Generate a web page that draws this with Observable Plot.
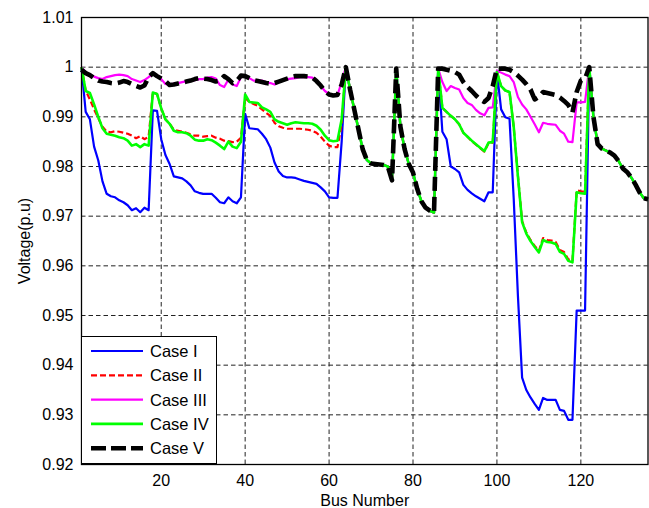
<!DOCTYPE html>
<html><head><meta charset="utf-8">
<script src="https://cdn.jsdelivr.net/npm/d3@7"></script>
<script src="https://cdn.jsdelivr.net/npm/@observablehq/plot@0.6"></script>
<style>
body{margin:0;background:#fff;}
#wrap{position:relative;width:649px;height:508px;font-family:"Liberation Sans",Arial,sans-serif;}
#legend{position:absolute;left:81px;top:336px;width:136px;height:128px;background:#fff;border:1.3px solid #000;box-sizing:border-box;}
#legend svg{display:block;}
</style></head><body><div id="wrap"></div>
<script>
// ---- data ----
const caseNames = ["Case I", "Case II", "Case III", "Case IV", "Case V"];
const xTicks = [20, 40, 60, 80, 100, 120];
const yTicks = [0.92, 0.93, 0.94, 0.95, 0.96, 0.97, 0.98, 0.99, 1.00, 1.01];

// buses 64-86 and 122-136 are the same for every case
const common64to86 = [1.0000,0.9955,0.9915,0.9875,0.9835,0.9813,0.9806,0.9805,0.9804,0.9803,0.9800,0.9772,0.9997,0.9880,0.9835,0.9805,0.9788,0.9755,0.9730,0.9717,0.9711,0.9707,0.9997];
const common122to136 = [1.0000,0.9900,0.9845,0.9836,0.9832,0.9828,0.9822,0.9811,0.9796,0.9789,0.9778,0.9764,0.9748,0.9736,0.9734];

const caseI_1to63 = [1.0000,0.9910,0.9895,0.9840,0.9812,0.9770,0.9745,0.9740,0.9738,0.9732,0.9728,0.9722,0.9712,0.9716,0.9708,0.9717,0.9712,
  0.9913,0.9912,0.9855,0.9823,0.9805,0.9780,0.9778,0.9776,0.9770,0.9762,0.9750,0.9747,0.9745,0.9745,0.9745,0.9737,0.9728,0.9726,0.9738,0.9730,0.9726,0.9738,
  0.9906,0.9877,0.9876,0.9875,0.9866,0.9855,0.9838,0.9808,0.9790,0.9781,0.9778,0.9778,0.9777,0.9774,0.9771,0.9769,0.9767,0.9765,0.9758,0.9750,0.9738,0.9737,0.9737,0.9850];
const caseI_87to121 = [0.9870,0.9855,0.9800,0.9795,0.9788,0.9763,0.9753,0.9746,0.9740,0.9735,0.9730,0.9748,0.9748,0.9990,0.9915,0.9899,0.9896,0.9735,0.9540,0.9375,0.9350,0.9335,0.9322,0.9310,0.9334,0.9330,0.9330,0.9330,0.9310,0.9308,0.9290,0.9290,0.9510,0.9510,0.9510];

const caseII_1to63 = [1.0000,0.9953,0.9935,0.9915,0.9897,0.9880,0.9870,0.9869,0.9871,0.9870,0.9868,0.9866,0.9862,0.9857,0.9861,0.9855,0.9860,
  0.9949,0.9946,0.9917,0.9895,0.9886,0.9874,0.9872,0.9870,0.9868,0.9865,0.9862,0.9862,0.9860,0.9861,0.9862,0.9858,0.9856,0.9852,0.9851,0.9849,0.9850,0.9858,
  0.9938,0.9930,0.9926,0.9922,0.9915,0.9908,0.9902,0.9888,0.9881,0.9878,0.9876,0.9876,0.9876,0.9876,0.9875,0.9874,0.9872,0.9868,0.9860,0.9850,0.9842,0.9839,0.9839,0.9885];
const caseII_87to121 = [0.9918,0.9910,0.9902,0.9895,0.9885,0.9868,0.9860,0.9851,0.9844,0.9837,0.9830,0.9847,0.9848,0.9990,0.9962,0.9953,0.9950,0.9880,0.9782,0.9690,0.9667,0.9652,0.9640,0.9630,0.9656,0.9652,0.9651,0.9648,0.9632,0.9628,0.9613,0.9610,0.9752,0.9750,0.9749];

const caseIII_1to63 = [1.0000,0.9990,0.9985,0.9981,0.9978,0.9976,0.9980,0.9982,0.9984,0.9985,0.9984,0.9982,0.9976,0.9973,0.9970,0.9974,0.9980,
  0.9987,0.9984,0.9976,0.9966,0.9964,0.9967,0.9968,0.9970,0.9972,0.9973,0.9974,0.9976,0.9976,0.9979,0.9980,0.9977,0.9964,0.9960,0.9975,0.9965,0.9962,0.9980,
  0.9983,0.9978,0.9973,0.9973,0.9973,0.9970,0.9968,0.9965,0.9970,0.9974,0.9976,0.9977,0.9978,0.9980,0.9980,0.9980,0.9979,0.9972,0.9962,0.9952,0.9946,0.9944,0.9944,0.9970];
const caseIII_87to121 = [0.9970,0.9952,0.9962,0.9958,0.9955,0.9938,0.9928,0.9924,0.9914,0.9907,0.9903,0.9918,0.9919,0.9993,0.9989,0.9985,0.9982,0.9970,0.9940,0.9925,0.9915,0.9900,0.9885,0.9869,0.9888,0.9886,0.9885,0.9884,0.9872,0.9866,0.9850,0.9849,0.9929,0.9929,0.9930];

const caseIV_1to63 = [1.0000,0.9952,0.9948,0.9925,0.9900,0.9877,0.9866,0.9864,0.9862,0.9859,0.9857,0.9852,0.9842,0.9845,0.9839,0.9845,0.9842,
  0.9949,0.9946,0.9917,0.9895,0.9886,0.9872,0.9869,0.9869,0.9867,0.9862,0.9854,0.9852,0.9852,0.9855,0.9853,0.9848,0.9842,0.9835,0.9850,0.9840,0.9837,0.9850,
  0.9945,0.9930,0.9929,0.9928,0.9919,0.9915,0.9910,0.9895,0.9890,0.9887,0.9884,0.9887,0.9889,0.9888,0.9887,0.9887,0.9886,0.9882,0.9874,0.9862,0.9853,0.9851,0.9852,0.9895];
const caseIV_87to121 = [0.9918,0.9910,0.9902,0.9895,0.9885,0.9868,0.9860,0.9852,0.9845,0.9838,0.9831,0.9848,0.9849,0.9990,0.9962,0.9953,0.9950,0.9880,0.9780,0.9688,0.9665,0.9650,0.9638,0.9627,0.9652,0.9648,0.9647,0.9644,0.9628,0.9624,0.9610,0.9607,0.9748,0.9746,0.9745];

const caseV_1to63 = [0.9995,0.9988,0.9984,0.9978,0.9973,0.9971,0.9970,0.9968,0.9967,0.9969,0.9972,0.9970,0.9966,0.9962,0.9959,0.9963,0.9980,
  0.9988,0.9982,0.9977,0.9972,0.9964,0.9965,0.9967,0.9969,0.9971,0.9973,0.9976,0.9978,0.9977,0.9976,0.9974,0.9971,0.9973,0.9982,0.9976,0.9968,0.9972,0.9983,
  0.9982,0.9978,0.9974,0.9972,0.9970,0.9968,0.9967,0.9968,0.9971,0.9974,0.9977,0.9980,0.9982,0.9982,0.9982,0.9981,0.9979,0.9972,0.9963,0.9952,0.9945,0.9943,0.9944,0.9965];
const caseV_87to121 = [0.9997,0.9995,0.9993,0.9990,0.9985,0.9970,0.9960,0.9952,0.9943,0.9935,0.9930,0.9938,0.9962,0.9997,0.9997,0.9997,0.9995,0.9990,0.9983,0.9975,0.9966,0.9955,0.9935,0.9940,0.9950,0.9948,0.9946,0.9944,0.9939,0.9932,0.9924,0.9909,0.9950,0.9973,0.9977];

// ---- styles ----
const styles = [
  {stroke: "#0000ff", strokeWidth: 2.2, dash: null},
  {stroke: "#ff0000", strokeWidth: 2.2, dash: "6,3"},
  {stroke: "#ff00ff", strokeWidth: 2.2, dash: null},
  {stroke: "#00ff00", strokeWidth: 2.6, dash: null},
  {stroke: "#000000", strokeWidth: 4.6, dash: "14,6"}
];

const segments = [
  [caseI_1to63, caseI_87to121],
  [caseII_1to63, caseII_87to121],
  [caseIII_1to63, caseIII_87to121],
  [caseIV_1to63, caseIV_87to121],
  [caseV_1to63, caseV_87to121]
];
const series = segments.map(([a, b]) => [...a, ...common64to86, ...b, ...common122to136]);

const lineMarks = series.map((vals, i) => Plot.line(
  vals.map((v, j) => ({bus: j + 1, v})),
  {x: "bus", y: "v", stroke: styles[i].stroke, strokeWidth: styles[i].strokeWidth,
   strokeDasharray: styles[i].dash || undefined, strokeLinejoin: "round", strokeLinecap: "butt"}
));

const fmt = d => (Math.abs(d - 1) < 1e-9 ? "1" : d.toFixed(2));
const gridStyle = {stroke: "#222", strokeOpacity: 1, strokeWidth: 1, strokeDasharray: "4.5,3"};

const chart = Plot.plot({
  width: 649, height: 508,
  marginLeft: 81, marginRight: 1.5, marginTop: 17, marginBottom: 44,
  style: {fontFamily: "Liberation Sans, Arial, sans-serif", fontSize: "16px", background: "#fff", color: "#000"},
  x: {domain: [1, 136]},
  y: {domain: [0.92, 1.01]},
  marks: [
    Plot.gridX(xTicks, gridStyle),
    Plot.gridY(yTicks.slice(1, -1), gridStyle),
    ...lineMarks,
    Plot.frame({stroke: "#000", strokeWidth: 1.3}),
    Plot.axisX(xTicks, {tickSize: 0, tickPadding: 10, fontSize: 16, label: "Bus Number", labelAnchor: "center", labelArrow: "none"}),
    Plot.axisY(yTicks, {tickSize: 0, tickPadding: 8, fontSize: 16, tickFormat: fmt, label: "Voltage(p.u)", labelAnchor: "center", labelArrow: "none", labelOffset: 63})
  ]
});
const wrap = document.getElementById("wrap");
wrap.appendChild(chart);

// ---- legend ----
const leg = d3.select(wrap).append("div").attr("id", "legend");
const lsvg = leg.append("svg").attr("width", 134).attr("height", 126);
caseNames.forEach((name, i) => {
  const cy = 14 + i * 24.3;
  const s = styles[i];
  lsvg.append("line").attr("x1", 9).attr("x2", 61).attr("y1", cy).attr("y2", cy)
    .attr("stroke", s.stroke).attr("stroke-width", i === 4 ? 4.6 : s.strokeWidth)
    .attr("stroke-dasharray", i === 4 ? "15,5" : s.dash);
  lsvg.append("text").attr("x", 68).attr("y", cy).attr("dy", "0.36em")
    .attr("font-size", 16.5).attr("font-family", "Liberation Sans, Arial, sans-serif").text(name);
});
</script>
</body></html>
